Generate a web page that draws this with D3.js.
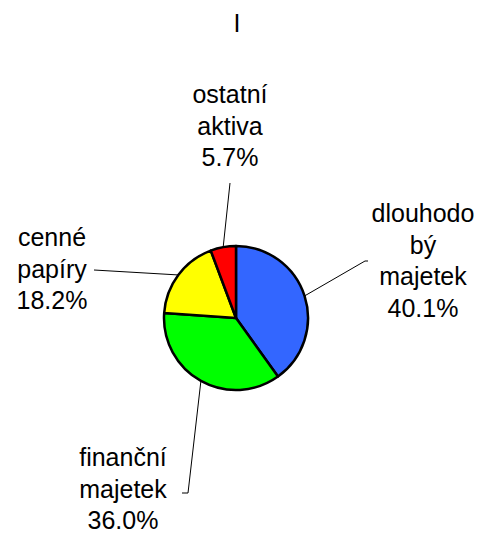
<!DOCTYPE html>
<html><head><meta charset="utf-8">
<script src="https://cdn.jsdelivr.net/npm/d3@7"></script>
<style>body{margin:0;background:#fff}svg{display:block}text{font-family:Arial,"Liberation Sans",sans-serif;fill:#000}</style>
</head><body>
<script>
const categories = ["dlouhodobý majetek", "finanční majetek", "cenné papíry", "ostatní aktiva"];
const labelLines = [["dlouhodo", "bý", "majetek"], ["finanční", "majetek"], ["cenné", "papíry"], ["ostatní", "aktiva"]];
const values = [40.1, 36.0, 18.2, 5.7];
const colors = ["#3366FF", "#00FF00", "#FFFF00", "#FF0000"];
const title = "I";

// layout (label placement) — not data
const W = 478, H = 533, cx = 236, cy = 318, R = 72, fs = 25, lh = 31.5;
const labelLayout = [
  {x: 423, y0: 222, anchor: [368, 261], hook: [365, 261]},
  {x: 123, y0: 466, anchor: [182, 493], hook: [188, 493]},
  {x: 52, y0: 246, anchor: [94, 270], hook: null},
  {x: 230, y0: 103, anchor: [230, 183], hook: null}
];

const svg = d3.select("body").append("svg").attr("width", W).attr("height", H);
svg.append("text").attr("x", 237).attr("y", 32).attr("text-anchor", "middle")
  .style("font-size", fs + "px").text(title);

const pie = d3.pie().sort(null).value(d => d)(values);
const arc = d3.arc().innerRadius(0).outerRadius(R);
const g = svg.append("g").attr("transform", `translate(${cx},${cy})`);
g.selectAll("path").data(pie).join("path")
  .attr("d", arc).attr("fill", (d, i) => colors[i])
  .attr("stroke", "#000").attr("stroke-width", 2.5).attr("stroke-linejoin", "round");

const fmt = d3.format(".1f");
pie.forEach((d, i) => {
  const L = labelLayout[i];
  const a = (d.startAngle + d.endAngle) / 2;
  const ex = cx + R * Math.sin(a), ey = cy - R * Math.cos(a);
  const pts = [[ex, ey]];
  if (L.hook) pts.push(L.hook);
  pts.push(L.anchor);
  svg.append("path").attr("d", d3.line()(pts)).attr("fill", "none")
    .attr("stroke", "#000").attr("stroke-width", 1);
  const lines = labelLines[i].concat([fmt(values[i]) + "%"]);
  const t = svg.append("text").attr("text-anchor", "middle").style("font-size", fs + "px");
  lines.forEach((s, k) => {
    t.append("tspan").attr("x", L.x).attr("y", L.y0 + k * lh).text(s);
  });
});
</script>
</body></html>
